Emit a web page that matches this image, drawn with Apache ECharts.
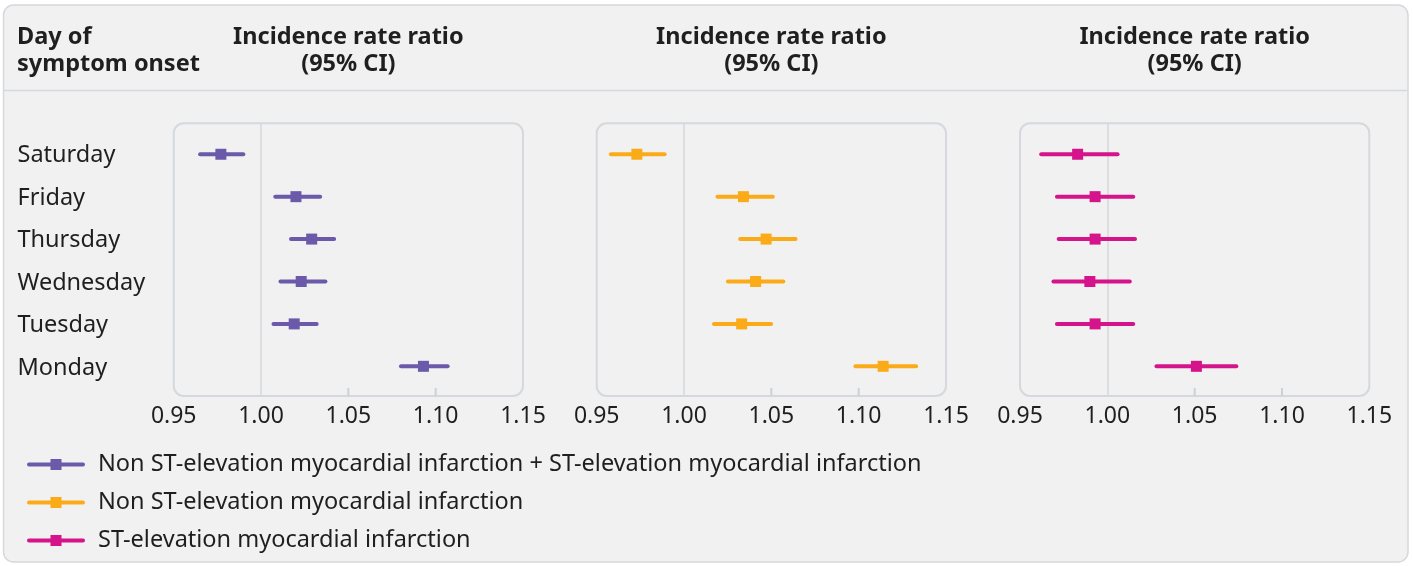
<!DOCTYPE html>
<html>
<head>
<meta charset="utf-8">
<script src="https://cdn.jsdelivr.net/npm/echarts@6/dist/echarts.min.js"></script>
<style>
html,body{margin:0;padding:0;background:#ffffff;}
#chart{width:1413px;height:566px;}
</style>
</head>
<body>
<div id="chart"></div>
<script>
// ---- data ----
const days = ['Saturday', 'Friday', 'Thursday', 'Wednesday', 'Tuesday', 'Monday'];
const seriesNames = [
  'Non ST-elevation myocardial infarction + ST-elevation myocardial infarction',
  'Non ST-elevation myocardial infarction',
  'ST-elevation myocardial infarction'
];
const allEst = [0.977, 1.020, 1.029, 1.023, 1.019, 1.093];
const allLo  = [0.964, 1.007, 1.016, 1.010, 1.006, 1.079];
const allHi  = [0.991, 1.035, 1.043, 1.038, 1.033, 1.108];
const nstemiEst = [0.973, 1.034, 1.047, 1.041, 1.033, 1.114];
const nstemiLo  = [0.957, 1.018, 1.031, 1.024, 1.016, 1.097];
const nstemiHi  = [0.990, 1.052, 1.065, 1.058, 1.051, 1.134];
const stemiEst = [0.983, 0.993, 0.993, 0.990, 0.993, 1.051];
const stemiLo  = [0.961, 0.970, 0.971, 0.968, 0.970, 1.027];
const stemiHi  = [1.007, 1.016, 1.017, 1.014, 1.016, 1.075];
const xTickLabels = ['0.95', '1.00', '1.05', '1.10', '1.15'];
const innerTicks = [1.05, 1.10];
const refValue = 1.00;
const headerLine1 = 'Incidence rate ratio';
const headerLine2 = '(95% CI)';

// ---- styles / layout ----
const colors = ['#6a5aa9', '#fbab18', '#d5138a'];
const FONT = '"Noto Sans", sans-serif';
const textColor = '#1f1f1f';
const borderColor = '#d5d9dd';
const grids = [
  {left: 173.7, top: 123.3, width: 349.3, height: 272.7},
  {left: 596.7, top: 123.3, width: 349.3, height: 272.7},
  {left: 1020, top: 123.3, width: 349.3, height: 272.7}
];
const yMin = -0.70, yMax = 5.73;

function rows(lo, hi, est) {
  return days.map((d, i) => [lo[i], hi[i], est[i], days.length - 1 - i, d]);
}
const panels = [rows(allLo, allHi, allEst), rows(nstemiLo, nstemiHi, nstemiEst), rows(stemiLo, stemiHi, stemiEst)];

function renderBar(params, api) {
  const y = api.value(3);
  const p1 = api.coord([api.value(0), y]);
  const p2 = api.coord([api.value(1), y]);
  const pe = api.coord([api.value(2), y]);
  const c = api.visual('color');
  const s = 11;
  return {
    type: 'group',
    children: [
      {type: 'line', shape: {x1: p1[0] + 2, y1: p1[1], x2: p2[0] - 2, y2: p2[1]},
       style: {stroke: c, lineWidth: 4, lineCap: 'round'}},
      {type: 'rect', shape: {x: pe[0] - s / 2, y: pe[1] - s / 2, width: s, height: s},
       style: {fill: c}}
    ]
  };
}

function renderTick(params, api) {
  const p = api.coord([api.value(0), api.value(1)]);
  return {type: 'line', shape: {x1: p[0], y1: p[1], x2: p[0], y2: p[1] - 8},
          style: {stroke: '#cdd1d6', lineWidth: 2}};
}

const xAxes = grids.map((g, i) => ({
  type: 'value', gridIndex: i, min: 0.95, max: 1.15, interval: 0.05, position: 'bottom',
  axisLine: {show: false, onZero: false},
  splitLine: {show: false},
  axisTick: {show: false},
  axisLabel: {show: true, margin: 9, fontFamily: FONT, fontSize: 23, color: textColor,
              customValues: xTickLabels.map(Number),
              formatter: v => xTickLabels.find(t => Math.abs(Number(t) - v) < 1e-6) || v.toFixed(2)}
}));

const yAxes = grids.map((g, i) => ({
  type: 'value', gridIndex: i, min: yMin, max: yMax,
  axisLine: {show: false, onZero: false}, axisTick: {show: false}, splitLine: {show: false},
  axisLabel: i === 0 ? {
    show: true, align: 'left', margin: g.left - 17.5, color: textColor,
    customValues: days.map((d, k) => k),
    formatter: v => '{d|' + days[days.length - 1 - Math.round(v)] + '}',
    rich: {d: {fontFamily: FONT, fontSize: 23.5, color: textColor, padding: [3, 0, 0, 0]}}
  } : {show: false}
}));

const series = [];
panels.forEach((data, i) => {
  series.push({
    type: 'custom', name: seriesNames[i], xAxisIndex: i, yAxisIndex: i,
    itemStyle: {color: colors[i]},
    encode: {x: [0, 1, 2], y: 3},
    renderItem: renderBar,
    data: data, z: 5
  });
  series.push({
    type: 'custom', name: 'ticks' + i, xAxisIndex: i, yAxisIndex: i, silent: true,
    encode: {x: 0, y: 1},
    renderItem: renderTick,
    data: innerTicks.map(v => [v, yMin]), z: 2
  });
  series.push({
    type: 'line', name: 'ref' + i, xAxisIndex: i, yAxisIndex: i, data: [],
    markLine: {silent: true, symbol: ['none', 'none'], label: {show: false},
               lineStyle: {color: borderColor, width: 1.5, type: 'solid'},
               data: [{xAxis: refValue}]},
    z: 1
  });
});

const HFONT = 'bold 23.5px ' + FONT;
const graphics = [
  {type: 'rect', z: -10, shape: {x: 3.5, y: 5, width: 1404.5, height: 557, r: 10},
   style: {fill: '#f1f1f1', stroke: borderColor, lineWidth: 1.5}},
  {type: 'line', z: -9, shape: {x1: 4, y1: 90.5, x2: 1407.5, y2: 90.5},
   style: {stroke: borderColor, lineWidth: 1.5}},
  {type: 'text', x: 17, y: 37, style: {text: 'Day of', font: HFONT, fill: textColor, verticalAlign: 'middle'}},
  {type: 'text', x: 17, y: 64, style: {text: 'symptom onset', font: HFONT, fill: textColor, verticalAlign: 'middle'}}
];
grids.forEach(g => {
  const cx = g.left + g.width / 2;
  graphics.push({type: 'rect', z: -8, shape: {x: g.left, y: g.top, width: g.width, height: g.height, r: 10},
                 style: {fill: 'none', stroke: borderColor, lineWidth: 2}});
  graphics.push({type: 'text', x: cx, y: 37, style: {text: headerLine1, font: HFONT, fill: textColor, align: 'center', verticalAlign: 'middle'}});
  graphics.push({type: 'text', x: cx, y: 64, style: {text: headerLine2, font: HFONT, fill: textColor, align: 'center', verticalAlign: 'middle'}});
});

const legendIcon = 'path://M2,4 L56,4 A2,2 0 0 1 56,8 L2,8 A2,2 0 0 1 2,4 Z M23.5,0.5 L34.5,0.5 L34.5,11.5 L23.5,11.5 Z';

const option = {
  animation: false,
  backgroundColor: '#ffffff',
  grid: grids.map(g => Object.assign({containLabel: false}, g)),
  xAxis: xAxes,
  yAxis: yAxes,
  legend: {
    orient: 'vertical', left: 22, top: 447.5, itemWidth: 58, itemHeight: 12, itemGap: 14,
    icon: legendIcon, selectedMode: false,
    data: seriesNames,
    textStyle: {fontFamily: FONT, fontSize: 23.5, color: textColor, lineHeight: 24, padding: [0, 0, 0, 8]}
  },
  graphic: graphics,
  series: series
};

const chart = echarts.init(document.getElementById('chart'), null, {renderer: 'canvas'});
chart.setOption(option);
</script>
</body>
</html>
